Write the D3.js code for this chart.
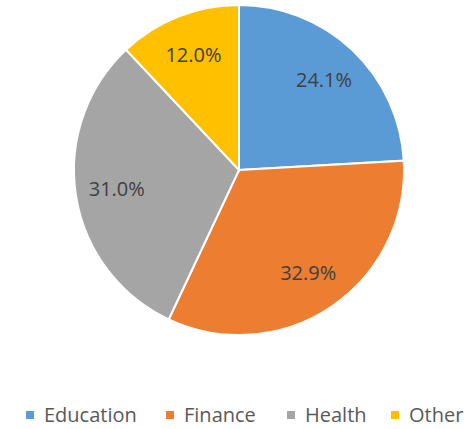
<!DOCTYPE html>
<html>
<head>
<meta charset="utf-8">
<script src="https://cdn.jsdelivr.net/npm/d3@7"></script>
<style>
  body { margin: 0; background: #fff; }
  text { font-family: "Open Sans", "Liberation Sans", sans-serif; }
</style>
</head>
<body>
<div id="chart"></div>
<script>
var categories = ["Education", "Finance", "Health", "Other"]
var shares = [24.1, 32.9, 31.0, 12.0]
var colors = ["#5B9BD5", "#ED7D31", "#A5A5A5", "#FFC000"]

var width = 471, height = 429
var cx = 239, cy = 170, radius = 165

var svg = d3.select("#chart")
    .append("svg")
    .attr("width", width)
    .attr("height", height)

var data = categories.map(function (c, i) {
    return { name: c, value: shares[i], color: colors[i] }
})

var pie = d3.pie()
    .sort(null)
    .value(d => d.value)

var arc = d3.arc()
    .innerRadius(0)
    .outerRadius(radius)

var labelArc = d3.arc()
    .innerRadius(radius * 0.75)
    .outerRadius(radius * 0.75)

var g = svg.append("g")
    .attr("transform", `translate(${cx},${cy})`)

// slices
g.selectAll("path")
    .data(pie(data))
    .join("path")
    .attr("d", arc)
    .attr("fill", d => d.data.color)
    .attr("stroke", "#fff")
    .attr("stroke-width", 2)

// percent labels
g.selectAll("text.lbl")
    .data(pie(data))
    .join("text")
    .attr("class", "lbl")
    .attr("transform", d => `translate(${labelArc.centroid(d)})`)
    .attr("text-anchor", "middle")
    .attr("dy", "0.35em")
    .style("font-size", "20px")
    .style("fill", "#404040")
    .text(d => d.data.value.toFixed(1) + "%")

// legend
var legendX = [26, 166, 287, 391]
var legend = svg.append("g")
    .selectAll("g")
    .data(data)
    .join("g")
    .attr("transform", (d, i) => `translate(${legendX[i]},415)`)

legend.append("rect")
    .attr("x", 0)
    .attr("y", -4)
    .attr("width", 8)
    .attr("height", 8)
    .attr("fill", d => d.color)

legend.append("text")
    .attr("x", 18)
    .attr("dy", "0.35em")
    .style("font-size", "20px")
    .style("fill", "#595959")
    .text(d => d.name)
</script>
</body>
</html>
